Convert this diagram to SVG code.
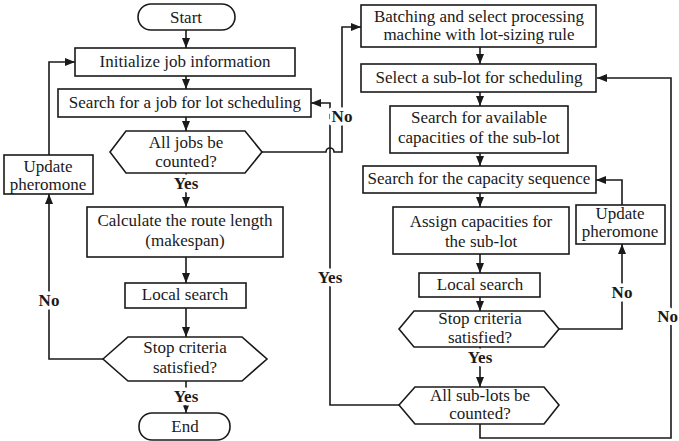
<svg xmlns="http://www.w3.org/2000/svg" width="679" height="441" viewBox="0 0 679 441">
  <style>
    .box { fill: #fff; stroke: #1a1a1a; stroke-width: 1.6; }
    .t { font-family: "Liberation Serif", "Times New Roman", serif; font-size: 17px; fill: #1a1a1a; text-anchor: middle; }
    .lbl { font-family: "Liberation Serif", "Times New Roman", serif; font-size: 17px; font-weight: bold; fill: #1a1a1a; text-anchor: middle; paint-order: stroke; stroke: #fff; stroke-width: 7px; stroke-linejoin: round; }
    .c { fill: none; stroke: #1a1a1a; stroke-width: 1.6; }
    .a { marker-end: url(#arrow); }
  </style>
  <defs>
    <marker id="arrow" markerUnits="userSpaceOnUse" markerWidth="10" markerHeight="8" refX="10" refY="4" orient="auto">
      <path d="M0,0 L10,4 L0,8 z" fill="#1a1a1a"/>
    </marker>
  </defs>

  <!-- connectors -->
  <g id="connectors">
    <path class="c a" d="M186,30 V48"/>
    <path class="c a" d="M186,76 V89"/>
    <path class="c a" d="M186,117 V131"/>
    <path class="c a" d="M186,173 V207"/>
    <path class="c a" d="M186,257 V283"/>
    <path class="c a" d="M186,308 V337"/>
    <path class="c a" d="M186,381 V413"/>
    <path class="c a" d="M103,359 H49 V194"/>
    <path class="c a" d="M49,155 V62 H75"/>
    <path class="c a" d="M262,152 H326 A4,4 0 0 1 334,152 H342 V27 H361"/>
    <path class="c a" d="M399,405 H330 V103 H311"/>

    <path class="c a" d="M480,47 V64"/>
    <path class="c a" d="M480,92 V106"/>
    <path class="c a" d="M480,153 V166"/>
    <path class="c a" d="M480,193 V207"/>
    <path class="c a" d="M480,254 V273"/>
    <path class="c a" d="M480,297 V311"/>
    <path class="c a" d="M480,347 V387"/>
    <path class="c a" d="M559,329 H622 V244"/>
    <path class="c a" d="M622,205 V180 H596"/>
    <path class="c a" d="M480,424 V438 H671 V78 H597"/>

    <text class="lbl" x="186" y="189">Yes</text>
    <text class="lbl" x="186" y="402">Yes</text>
    <text class="lbl" x="49" y="306">No</text>
    <text class="lbl" x="342" y="122">No</text>
    <text class="lbl" x="330" y="283">Yes</text>
    <text class="lbl" x="480" y="363">Yes</text>
    <text class="lbl" x="622" y="298">No</text>
    <text class="lbl" x="678" y="322" style="text-anchor:end">No</text>
  </g>

  <!-- left column -->
  <g id="start">
    <rect class="box" x="138" y="4" width="97" height="26" rx="13"/>
    <text class="t" x="186" y="23">Start</text>
  </g>
  <g id="init-job">
    <rect class="box" x="75" y="48" width="220" height="28"/>
    <text class="t" x="185" y="67">Initialize job information</text>
  </g>
  <g id="search-job">
    <rect class="box" x="58" y="89" width="253" height="28"/>
    <text class="t" x="185" y="108">Search for a job for lot scheduling</text>
  </g>
  <g id="all-jobs">
    <polygon class="box" points="110,152 126,131 245,131 262,152 245,173 126,173"/>
    <text class="t" x="186" y="148">All jobs be</text>
    <text class="t" x="186" y="167">counted?</text>
  </g>
  <g id="update-left">
    <rect class="box" x="4" y="155" width="89" height="39"/>
    <text class="t" x="48" y="172">Update</text>
    <text class="t" x="48" y="190">pheromone</text>
  </g>
  <g id="route-length">
    <rect class="box" x="87" y="207" width="196" height="50"/>
    <text class="t" x="185" y="226">Calculate the route length</text>
    <text class="t" x="185" y="246">(makespan)</text>
  </g>
  <g id="local-left">
    <rect class="box" x="125" y="283" width="121" height="25"/>
    <text class="t" x="185" y="300">Local search</text>
  </g>
  <g id="stop-left">
    <polygon class="box" points="103,359 128,337 242,337 267,359 242,381 128,381"/>
    <text class="t" x="185" y="353">Stop criteria</text>
    <text class="t" x="185" y="373">satisfied?</text>
  </g>
  <g id="end">
    <rect class="box" x="139" y="413" width="91" height="27" rx="13"/>
    <text class="t" x="185" y="432">End</text>
  </g>

  <!-- right column -->
  <g id="batching">
    <rect class="box" x="361" y="5" width="235" height="42"/>
    <text class="t" x="479" y="22">Batching and select processing</text>
    <text class="t" x="479" y="40">machine with lot-sizing rule</text>
  </g>
  <g id="select-sublot">
    <rect class="box" x="361" y="64" width="235" height="28"/>
    <text class="t" x="479" y="83">Select a sub-lot for scheduling</text>
  </g>
  <g id="search-capacities">
    <rect class="box" x="390" y="106" width="178" height="47"/>
    <text class="t" x="479" y="123">Search for available</text>
    <text class="t" x="479" y="143">capacities of the sub-lot</text>
  </g>
  <g id="capacity-sequence">
    <rect class="box" x="363" y="166" width="233" height="27"/>
    <text class="t" x="479" y="184">Search for the capacity sequence</text>
  </g>
  <g id="assign-capacities">
    <rect class="box" x="393" y="207" width="176" height="47"/>
    <text class="t" x="481" y="227">Assign capacities for</text>
    <text class="t" x="481" y="247">the sub-lot</text>
  </g>
  <g id="update-right">
    <rect class="box" x="576" y="205" width="89" height="39"/>
    <text class="t" x="620" y="219">Update</text>
    <text class="t" x="620" y="237">pheromone</text>
  </g>
  <g id="local-right">
    <rect class="box" x="419" y="273" width="121" height="24"/>
    <text class="t" x="480" y="290">Local search</text>
  </g>
  <g id="stop-right">
    <polygon class="box" points="399,329 414,311 544,311 559,329 544,347 414,347"/>
    <text class="t" x="480" y="324">Stop criteria</text>
    <text class="t" x="480" y="343">satisfied?</text>
  </g>
  <g id="all-sublots">
    <polygon class="box" points="399,405 415,387 544,387 559,405 544,424 415,424"/>
    <text class="t" x="480" y="401">All sub-lots be</text>
    <text class="t" x="480" y="419">counted?</text>
  </g>
</svg>
